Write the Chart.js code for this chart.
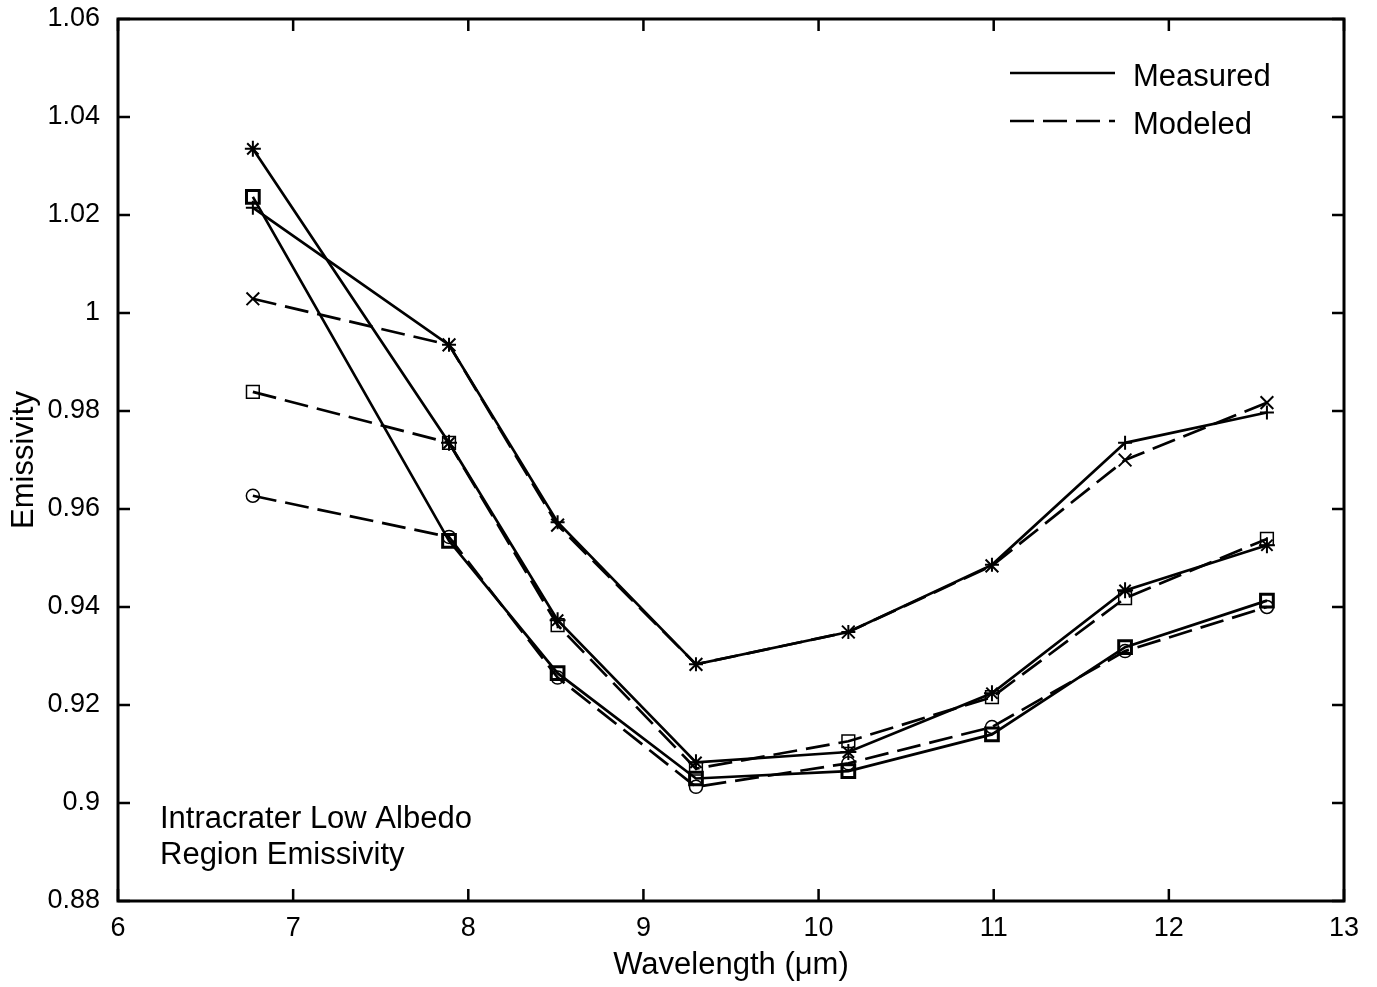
<!DOCTYPE html>
<html>
<head>
<meta charset="utf-8">
<script src="https://cdn.jsdelivr.net/npm/chart.js@4.4.1/dist/chart.umd.min.js"></script>
<style>
  body { margin: 0; background: #fff; }
  #wrap { width: 1377px; height: 987px; position: relative; }
</style>
</head>
<body>
<div id="wrap"><canvas id="emissivityChart"></canvas></div>
<script>
// THEMIS band centres (um)
const wavelengths = [6.77, 7.89, 8.51, 9.30, 10.17, 10.99, 11.75, 12.56];

// measured spectra (solid lines)
const measuredPlus   = [1.0215, 0.9935, 0.9573, 0.9283, 0.9349, 0.9486, 0.9735, 0.9797];
const measuredStar   = [1.0335, 0.9735, 0.9373, 0.9083, 0.9104, 0.9224, 0.9434, 0.9526];
const measuredSquare = [1.0237, 0.9535, 0.9265, 0.9050, 0.9065, 0.9140, 0.9318, 0.9413];

// modeled spectra (dashed lines)
const modeledCross  = [1.0029, 0.9935, 0.9567, 0.9283, 0.9349, 0.9484, 0.9700, 0.9817];
const modeledSquare = [0.9839, 0.9735, 0.9363, 0.9070, 0.9126, 0.9216, 0.9418, 0.9539];
const modeledCircle = [0.9627, 0.9543, 0.9256, 0.9033, 0.9081, 0.9155, 0.9310, 0.9400];

const xTicks = [6, 7, 8, 9, 10, 11, 12, 13];
const yTicks = [0.88, 0.90, 0.92, 0.94, 0.96, 0.98, 1.00, 1.02, 1.04, 1.06];
const yTickLabels = ['0.88', '0.9', '0.92', '0.94', '0.96', '0.98', '1', '1.02', '1.04', '1.06'];

const legendLabels = ['Measured', 'Modeled'];
const noteLines = ['Intracrater Low Albedo', 'Region Emissivity'];

const FONT = '"Liberation Sans", Arial, Helvetica, sans-serif';
const DASH = [24, 9];

function toPoints(values) {
    return values.map((v, i) => ({ x: wavelengths[i], y: v }));
}

function series(label, values, dashed, pointStyle, radius, pointWidth) {
    return {
        label: label,
        data: toPoints(values),
        borderColor: '#000',
        backgroundColor: 'rgba(0,0,0,0)',
        borderWidth: 2.7,
        borderDash: dashed ? DASH : [],
        pointStyle: pointStyle,
        pointRadius: radius,
        pointBorderWidth: pointWidth,
        pointBorderColor: '#000',
        pointBackgroundColor: 'rgba(0,0,0,0)',
        tension: 0
    };
}

// no extra room for half labels at the ends of the axes
function noScalePadding(scale) {
    scale.paddingTop = 0;
    scale.paddingBottom = 0;
    scale.paddingLeft = 0;
    scale.paddingRight = 0;
}

// frame, inward ticks on all sides, legend and the note text
const framePlugin = {
    id: 'frame',
    afterDraw(chart) {
        const ctx = chart.ctx;
        const a = chart.chartArea;
        const xs = chart.scales.x;
        const ys = chart.scales.y;
        const tick = 12;

        ctx.save();
        ctx.strokeStyle = '#000';
        ctx.lineWidth = 3;
        ctx.setLineDash([]);
        ctx.strokeRect(a.left, a.top, a.right - a.left, a.bottom - a.top);

        ctx.lineWidth = 2.5;
        ctx.beginPath();
        xTicks.forEach(v => {
            const px = xs.getPixelForValue(v);
            ctx.moveTo(px, a.bottom); ctx.lineTo(px, a.bottom - tick);
            ctx.moveTo(px, a.top); ctx.lineTo(px, a.top + tick);
        });
        yTicks.forEach(v => {
            const py = ys.getPixelForValue(v);
            ctx.moveTo(a.left, py); ctx.lineTo(a.left + tick, py);
            ctx.moveTo(a.right, py); ctx.lineTo(a.right - tick, py);
        });
        ctx.stroke();

        // legend
        ctx.fillStyle = '#000';
        ctx.font = '31px ' + FONT;
        ctx.textBaseline = 'alphabetic';
        ctx.textAlign = 'left';
        const legendRows = [73, 121];
        legendLabels.forEach((txt, i) => {
            ctx.lineWidth = 2.7;
            ctx.setLineDash(i === 0 ? [] : DASH);
            ctx.beginPath();
            ctx.moveTo(1010, legendRows[i]);
            ctx.lineTo(1115, legendRows[i]);
            ctx.stroke();
            ctx.setLineDash([]);
            ctx.fillText(txt, 1133, legendRows[i] + 13);
        });

        // note in lower left
        noteLines.forEach((txt, i) => {
            ctx.fillText(txt, 160, 828 + i * 36);
        });
        ctx.restore();
    }
};

const config = {
    type: 'line',
    data: {
        datasets: [
            series('Measured 1', measuredPlus, false, 'cross', 7, 2),
            series('Modeled 1', modeledCross, true, 'crossRot', 9, 2),
            series('Measured 2', measuredStar, false, 'star', 8, 2),
            series('Modeled 2', modeledSquare, true, 'rect', 9, 1.5),
            series('Measured 3', measuredSquare, false, 'rect', 9, 3),
            series('Modeled 3', modeledCircle, true, 'circle', 6.5, 1.5)
        ]
    },
    options: {
        responsive: true,
        maintainAspectRatio: false,
        animation: false,
        layout: { padding: { top: 19, right: 33, left: 0, bottom: 0 } },
        plugins: {
            legend: { display: false },
            tooltip: { enabled: false }
        },
        scales: {
            x: {
                type: 'linear',
                min: 6,
                max: 13,
                afterFit(scale) { scale.height = 86; noScalePadding(scale); },
                afterBuildTicks(scale) { scale.ticks = xTicks.map(v => ({ value: v })); },
                grid: { display: false, drawTicks: false },
                border: { display: false },
                ticks: {
                    color: '#000',
                    font: { family: FONT, size: 27 },
                    padding: 11,
                    maxRotation: 0,
                    callback: v => String(v)
                },
                title: {
                    display: true,
                    text: 'Wavelength (μm)',
                    color: '#000',
                    font: { family: FONT, size: 31 },
                    padding: { top: 0, bottom: 3 }
                }
            },
            y: {
                type: 'linear',
                min: 0.88,
                max: 1.06,
                afterFit(scale) { scale.width = 118; noScalePadding(scale); },
                afterBuildTicks(scale) { scale.ticks = yTicks.map(v => ({ value: v })); },
                grid: { display: false, drawTicks: false },
                border: { display: false },
                ticks: {
                    color: '#000',
                    font: { family: FONT, size: 27 },
                    padding: 18,
                    callback: (v) => {
                        const i = yTicks.findIndex(t => Math.abs(t - v) < 1e-6);
                        return i >= 0 ? yTickLabels[i] : '';
                    }
                },
                title: {
                    display: true,
                    text: 'Emissivity',
                    color: '#000',
                    font: { family: FONT, size: 31 },
                    padding: { top: 6, bottom: 0 }
                }
            }
        }
    },
    plugins: [framePlugin]
};

new Chart(document.getElementById('emissivityChart'), config);
</script>
</body>
</html>
